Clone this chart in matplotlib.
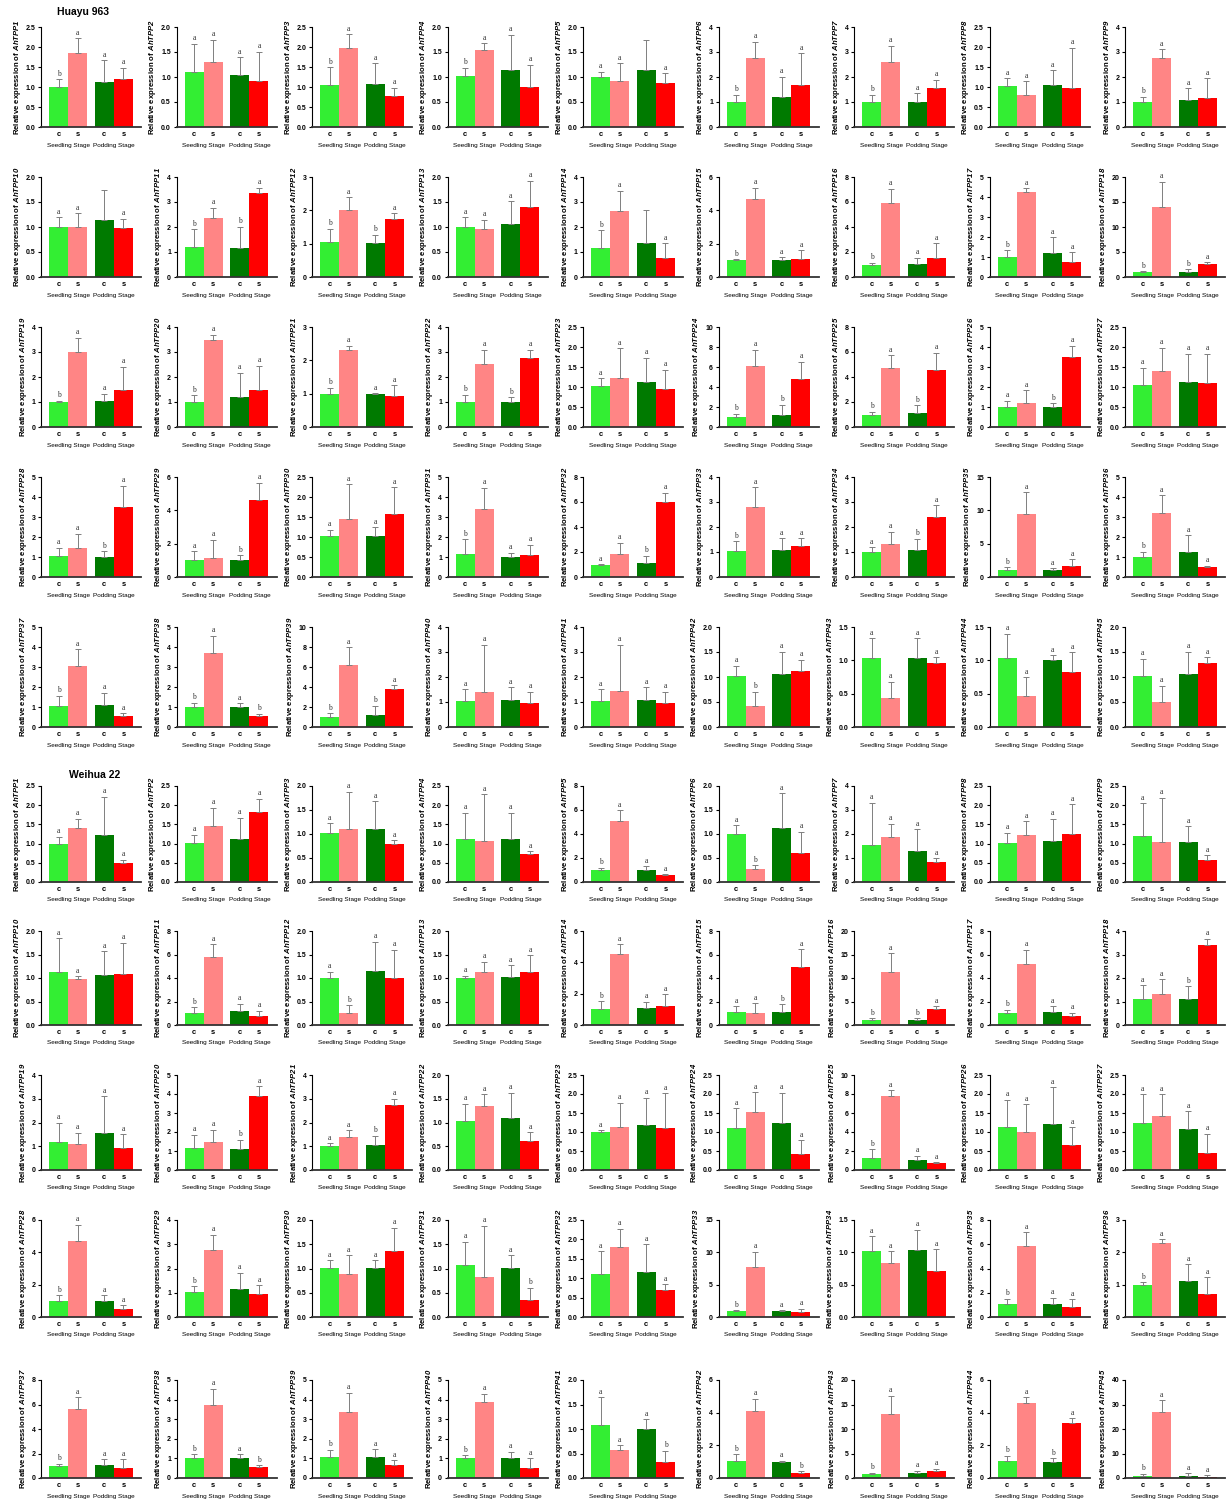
import matplotlib
matplotlib.use("Agg")
import matplotlib.pyplot as plt
from matplotlib.transforms import blended_transform_factory

plt.rcParams['font.family'] = ['Liberation Sans', 'DejaVu Sans']
plt.rcParams['mathtext.fontset'] = 'custom'
plt.rcParams['mathtext.rm'] = 'Liberation Sans:bold'
plt.rcParams['mathtext.it'] = 'Liberation Sans:italic'
plt.rcParams['mathtext.bf'] = 'Liberation Sans:bold'
plt.rcParams['mathtext.bfit'] = 'Liberation Sans:bold:italic'

# ---- data -------------------------------------------------------------
varieties = ["Huayu 963", "Weihua 22"]
genes = [f"AhTPP{i}" for i in range(1, 46)]
samples = ["c", "s", "c", "s"]
stages = ["Seedling Stage", "Podding Stage"]
bar_colors = ["#33EE33", "#FF8585", "#007A00", "#FF0000"]

# Huayu 963: mean and SD for (seedling c, seedling s, podding c, podding s)
huayu_ymax = [2.5, 2.0, 2.5, 2.0, 2.0, 4, 4, 2.5, 4,
              2.0, 4, 3, 2.0, 4, 6, 8, 5, 20,
              4, 4, 3, 4, 2.5, 10, 8, 5, 2.5,
              5, 6, 2.5, 5, 8, 4, 4, 15, 5,
              5, 5, 10, 4, 4, 2.0, 1.5, 1.5, 2.0]
huayu_mean = [
    [1.0, 1.85, 1.12, 1.2], [1.1, 1.3, 1.05, 0.92], [1.05, 1.97, 1.08, 0.78],
    [1.02, 1.54, 1.14, 0.81], [1.0, 0.93, 1.15, 0.89], [1.0, 2.75, 1.2, 1.7],
    [1.0, 2.6, 1.02, 1.55], [1.02, 0.81, 1.05, 0.98], [1.0, 2.75, 1.08, 1.18],
    [1.0, 1.0, 1.15, 0.98], [1.2, 2.38, 1.17, 3.35], [1.05, 2.0, 1.02, 1.75],
    [1.0, 0.97, 1.07, 1.4], [1.18, 2.65, 1.35, 0.75], [1.0, 4.7, 1.0, 1.1],
    [0.95, 5.9, 1.05, 1.5], [1.0, 4.25, 1.22, 0.77], [1.0, 14.0, 1.0, 2.7],
    [1.0, 3.0, 1.03, 1.47], [1.02, 3.5, 1.22, 1.48], [1.0, 2.3, 0.98, 0.92],
    [1.02, 2.52, 1.0, 2.75], [1.02, 1.23, 1.12, 0.96], [1.0, 6.1, 1.2, 4.85],
    [1.0, 4.7, 1.15, 4.55], [1.02, 1.22, 1.0, 3.5], [1.05, 1.4, 1.12, 1.1],
    [1.05, 1.45, 1.02, 3.52], [1.05, 1.17, 1.0, 4.6], [1.02, 1.45, 1.02, 1.58],
    [1.17, 3.4, 1.0, 1.12], [0.95, 1.85, 1.1, 6.0], [1.05, 2.8, 1.08, 1.25],
    [1.02, 1.32, 1.08, 2.4], [1.0, 9.5, 1.0, 1.6], [1.02, 3.2, 1.25, 0.48],
    [1.05, 3.05, 1.12, 0.57], [1.02, 3.7, 1.0, 0.55], [1.02, 6.25, 1.2, 3.8],
    [1.05, 1.42, 1.08, 0.98], [1.05, 1.43, 1.08, 0.98], [1.02, 0.43, 1.06, 1.13],
    [1.03, 0.43, 1.03, 0.96], [1.04, 0.47, 1.0, 0.82], [1.03, 0.5, 1.06, 1.28],
]
huayu_sd = [
    [0.2, 0.37, 0.55, 0.28], [0.57, 0.45, 0.35, 0.58], [0.45, 0.35, 0.52, 0.2],
    [0.16, 0.14, 0.71, 0.44], [0.1, 0.35, 0.6, 0.19], [0.3, 0.65, 0.82, 1.25],
    [0.3, 0.65, 0.33, 0.33], [0.2, 0.34, 0.37, 1.0], [0.22, 0.37, 0.47, 0.77],
    [0.2, 0.28, 0.6, 0.19], [0.72, 0.39, 0.85, 0.22], [0.4, 0.4, 0.25, 0.17],
    [0.2, 0.17, 0.45, 0.53], [0.69, 0.8, 1.35, 0.6], [0.08, 0.65, 0.2, 0.5],
    [0.2, 1.15, 0.5, 1.2], [0.33, 0.18, 0.78, 0.46], [0.15, 5.0, 0.6, 0.25],
    [0.05, 0.57, 0.29, 0.95], [0.26, 0.2, 0.96, 0.97], [0.18, 0.13, 0.04, 0.33],
    [0.28, 0.58, 0.2, 0.35], [0.2, 0.74, 0.61, 0.47], [0.35, 1.65, 1.05, 1.65],
    [0.2, 1.05, 0.6, 1.4], [0.3, 0.61, 0.2, 0.55], [0.43, 0.58, 0.71, 0.73],
    [0.4, 0.7, 0.28, 1.03], [0.5, 1.05, 0.3, 1.05], [0.16, 0.87, 0.23, 0.67],
    [0.73, 1.05, 0.22, 0.5], [0.07, 0.9, 0.6, 0.75], [0.38, 0.8, 0.47, 0.3],
    [0.18, 0.48, 0.45, 0.48], [0.45, 3.2, 0.3, 1.1], [0.23, 0.9, 0.85, 0.07],
    [0.5, 0.83, 0.6, 0.11], [0.2, 0.85, 0.2, 0.1], [0.38, 1.75, 0.95, 0.4],
    [0.47, 1.88, 0.52, 0.42], [0.47, 1.87, 0.52, 0.42], [0.2, 0.27, 0.44, 0.22],
    [0.3, 0.25, 0.3, 0.09], [0.36, 0.28, 0.08, 0.3], [0.34, 0.32, 0.44, 0.12],
]
huayu_letters = [
    "baaa", "aaaa", "baaa", "baaa", "aa-a", "baaa", "baaa", "aaaa", "baaa",
    "aa-a", "baba", "baba", "aaaa", "ba-a", "baaa", "baaa", "baaa", "baba",
    "baaa", "baaa", "baaa", "baba", "aaaa", "baba", "baba", "aaba", "aaaa",
    "aaba", "aaba", "aaaa", "baaa", "aaba", "baaa", "aaba", "baaa", "baaa",
    "baaa", "baab", "baba", "aaaa", "aaaa", "abaa", "aaaa", "aaaa", "aaaa",
]

# Weihua 22
weihua_ymax = [2.5, 2.5, 2.0, 2.5, 8, 2.0, 4, 2.5, 2.5,
               2.0, 8, 2.0, 2.0, 6, 8, 20, 8, 4,
               4, 5, 4, 2.0, 2.5, 2.5, 10, 2.5, 2.5,
               6, 4, 2.0, 2.0, 2.5, 15, 1.5, 8, 3,
               8, 5, 5, 5, 2.0, 6, 20, 6, 40]
weihua_mean = [
    [1.0, 1.4, 1.22, 0.5], [1.02, 1.45, 1.12, 1.83], [1.02, 1.1, 1.1, 0.8],
    [1.12, 1.08, 1.12, 0.72], [1.0, 5.05, 1.0, 0.6], [1.01, 0.27, 1.13, 0.6],
    [1.55, 1.88, 1.28, 0.83], [1.02, 1.22, 1.08, 1.26], [1.2, 1.03, 1.05, 0.58],
    [1.13, 0.97, 1.07, 1.08], [1.05, 5.75, 1.15, 0.8], [1.0, 0.25, 1.14, 1.0],
    [1.0, 1.13, 1.02, 1.13], [1.05, 4.55, 1.07, 1.2], [1.07, 1.0, 1.12, 4.95],
    [1.0, 11.3, 1.0, 3.4], [1.02, 5.2, 1.1, 0.78], [1.1, 1.3, 1.1, 3.42],
    [1.17, 1.08, 1.55, 0.92], [1.15, 1.5, 1.1, 3.92], [1.0, 1.4, 1.05, 2.72],
    [1.04, 1.35, 1.1, 0.62], [1.0, 1.12, 1.18, 1.1], [1.1, 1.52, 1.23, 0.41],
    [1.28, 7.75, 1.05, 0.7], [1.13, 1.0, 1.21, 0.66], [1.23, 1.43, 1.07, 0.45],
    [1.02, 4.73, 1.02, 0.5], [1.03, 2.78, 1.15, 0.95], [1.01, 0.88, 1.01, 1.36],
    [1.07, 0.82, 1.02, 0.36], [1.12, 1.8, 1.17, 0.7], [0.95, 7.8, 0.92, 0.75],
    [1.02, 0.84, 1.03, 0.71], [1.05, 5.85, 1.1, 0.8], [1.0, 2.3, 1.1, 0.72],
    [1.0, 5.6, 1.05, 0.85], [1.02, 3.7, 1.02, 0.55], [1.05, 3.38, 1.05, 0.65],
    [1.0, 3.88, 1.02, 0.5], [1.08, 0.57, 1.0, 0.32], [1.05, 4.12, 1.0, 0.3],
    [0.9, 13.0, 1.0, 1.4], [1.02, 4.57, 1.0, 3.35], [1.0, 27.0, 1.0, 0.6],
]
weihua_sd = [
    [0.18, 0.25, 1.0, 0.08], [0.21, 0.48, 0.55, 0.34], [0.2, 0.78, 0.58, 0.07],
    [0.68, 1.2, 0.68, 0.08], [0.2, 0.93, 0.3, 0.05], [0.17, 0.08, 0.72, 0.45],
    [1.75, 0.55, 0.92, 0.15], [0.26, 0.36, 0.57, 0.76], [0.85, 1.17, 0.4, 0.12],
    [0.72, 0.07, 0.5, 0.67], [0.45, 1.15, 0.65, 0.4], [0.13, 0.17, 0.63, 0.6],
    [0.05, 0.22, 0.25, 0.35], [0.47, 0.6, 0.43, 0.75], [0.53, 0.85, 0.63, 1.5],
    [0.5, 4.0, 0.5, 0.6], [0.28, 1.2, 0.5, 0.25], [0.6, 0.65, 0.55, 0.26],
    [0.83, 0.49, 1.55, 0.58], [0.7, 0.62, 0.5, 0.5], [0.12, 0.27, 0.4, 0.28],
    [0.36, 0.25, 0.53, 0.18], [0.05, 0.65, 0.72, 0.92], [0.52, 0.53, 0.8, 0.37],
    [0.92, 0.67, 0.45, 0.1], [0.72, 0.73, 0.97, 0.47], [0.77, 0.57, 0.48, 0.5],
    [0.31, 0.97, 0.31, 0.22], [0.24, 0.62, 0.67, 0.37], [0.16, 0.39, 0.16, 0.48],
    [0.48, 1.06, 0.25, 0.24], [0.58, 0.47, 0.71, 0.15], [0.1, 2.3, 0.13, 0.55],
    [0.23, 0.18, 0.32, 0.34], [0.45, 1.15, 0.5, 0.65], [0.07, 0.1, 0.53, 0.51],
    [0.15, 1.0, 0.5, 0.7], [0.2, 0.85, 0.2, 0.1], [0.4, 0.97, 0.43, 0.25],
    [0.15, 0.42, 0.31, 0.5], [0.57, 0.1, 0.2, 0.24], [0.4, 0.73, 0.05, 0.12],
    [0.2, 3.8, 0.5, 0.45], [0.33, 0.38, 0.2, 0.3], [0.7, 4.8, 0.9, 0.6],
]
weihua_letters = [
    "aaaa", "aaaa", "aaaa", "aaaa", "baaa", "abaa", "aaaa", "aaaa", "aaaa",
    "aaaa", "baaa", "abaa", "aaaa", "baaa", "aaba", "baba", "baaa", "aaba",
    "aaaa", "aaba", "aaba", "aaaa", "aaaa", "aaaa", "baaa", "aaaa", "aaaa",
    "baaa", "baaa", "aaaa", "aaab", "aaaa", "baaa", "aaaa", "baaa", "baaa",
    "baaa", "baab", "baaa", "baaa", "aaab", "baab", "baaa", "baba", "baaa",
]

# ---- layout (pixels) ----------------------------------------------------
W, H = 1227, 1505
col_left = [41 + 135.5 * i for i in range(9)]
axes_w = 100
row_bottom = [127, 277, 427, 577, 727, 882, 1025, 1170, 1317, 1478]
row_height = [100, 100, 100, 100, 100, 96, 94, 95, 97, 98]
title_pos = [(83, 12), (95, 775)]

bar_x = [0, 1, 2.4, 3.4]
group_x = [0.5, 2.9]


def tick_step(top):
    if top <= 2.5:
        return 0.5
    if top <= 5:
        return 1
    if top <= 10:
        return 2
    if top <= 20:
        return 5
    return 10


fig = plt.figure(figsize=(W / 100, H / 100), dpi=100)

blocks = [(huayu_ymax, huayu_mean, huayu_sd, huayu_letters),
          (weihua_ymax, weihua_mean, weihua_sd, weihua_letters)]

for b, (ymaxs, means, sds, letters) in enumerate(blocks):
    fig.text(title_pos[b][0] / W, 1 - title_pos[b][1] / H, varieties[b],
             ha="center", va="center", fontsize=7.5, fontweight="bold")
    for g in range(45):
        r = b * 5 + g // 9
        c = g % 9
        ax = fig.add_axes([col_left[c] / W, 1 - row_bottom[r] / H,
                           axes_w / W, row_height[r] / H])
        top = ymaxs[g]
        ax.bar(bar_x, means[g], width=1.0, color=bar_colors, linewidth=0)
        ax.errorbar(bar_x, means[g], yerr=[[0] * 4, sds[g]], fmt="none",
                    ecolor="#7f7f7f", elinewidth=0.7, capsize=2.2,
                    capthick=0.7)
        step = tick_step(top)
        n = int(round(top / step))
        ticks = [k * step for k in range(n + 1)]
        ax.set_yticks(ticks)
        if step < 1:
            ax.set_yticklabels([f"{t:.1f}" for t in ticks])
        else:
            ax.set_yticklabels([f"{int(t)}" for t in ticks])
        ax.set_ylim(0, top)
        ax.set_xlim(-0.92, 4.32)
        ax.set_xticks(bar_x)
        ax.set_xticklabels(samples, fontweight="bold", fontsize=5.5)
        ax.tick_params(axis="x", length=0, pad=3)
        ax.tick_params(axis="y", length=2.5, width=0.8, pad=1.5,
                       labelsize=5)
        for lab in ax.get_yticklabels():
            lab.set_fontweight("bold")
        for s in ("top", "right"):
            ax.spines[s].set_visible(False)
        ax.spines["left"].set_linewidth(0.8)
        ax.spines["bottom"].set_linewidth(1.3)
        ax.spines["bottom"].set_color("#333333")

        off = top * 0.015
        for k in range(4):
            ch = letters[g][k]
            if ch == "-":
                continue
            ax.text(bar_x[k], means[g][k] + sds[g][k] + off, ch,
                    ha="center", va="bottom", fontsize=5.5,
                    family="Liberation Serif", color="#333333",
                    clip_on=False)

        trans = blended_transform_factory(ax.transData, ax.transAxes)
        for gx, st in zip(group_x, stages):
            ax.text(gx, -0.185, st, transform=trans, ha="center",
                    va="center", fontsize=4.6)

        ax.set_ylabel(r"Relative expression of $\mathbfit{" + genes[g] + "}$",
                      fontsize=5.6, fontweight="bold", labelpad=2)

fig.savefig("out.png", dpi=100)
